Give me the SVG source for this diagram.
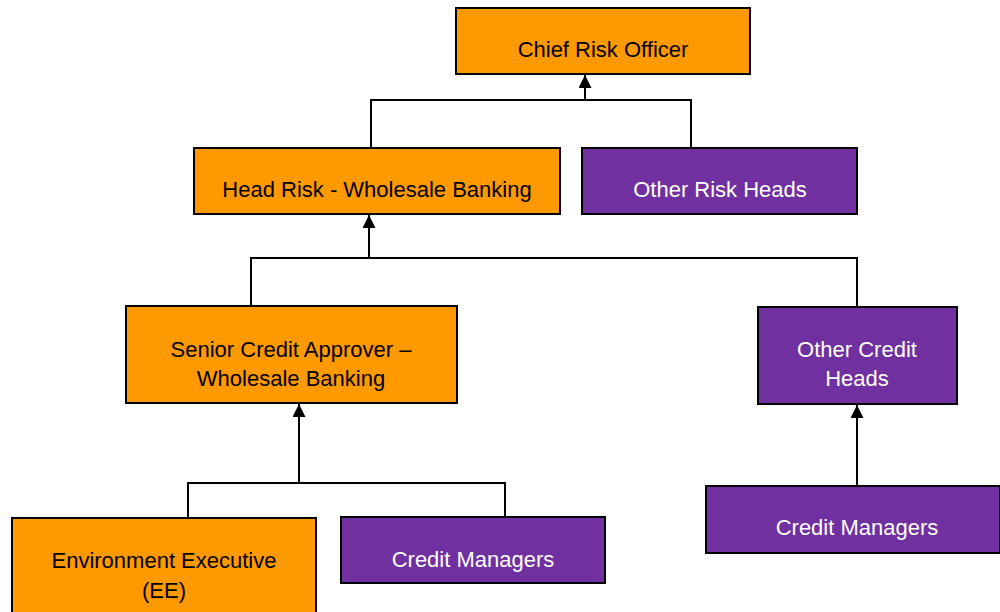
<svg xmlns="http://www.w3.org/2000/svg" width="1000" height="612" viewBox="0 0 1000 612">
<style>
.o{fill:#FF9900;stroke:#000;stroke-width:2}
.p{fill:#7030A0;stroke:#000;stroke-width:2}
.t{font-family:"Liberation Sans",Arial,sans-serif;font-size:22px;text-anchor:middle}
.tb{fill:#000}
.tw{fill:#fff}
.c{fill:none;stroke:#000;stroke-width:2}
</style>
<defs>
<marker id="ar" viewBox="0 0 10 10" refX="10" refY="5" markerWidth="14" markerHeight="13" markerUnits="userSpaceOnUse" orient="auto">
<path d="M0,0 L10,5 L0,10 z" fill="#000"/>
</marker>
</defs>
<rect width="1000" height="612" fill="#fff"/>
<g id="connectors">
<path class="c" d="M371,148 V100 H691 V148"/>
<path class="c" d="M585,100 V75" marker-end="url(#ar)"/>
<path class="c" d="M251,306 V258 H857 V306"/>
<path class="c" d="M369,258 V215" marker-end="url(#ar)"/>
<path class="c" d="M188,518 V483 H505 V517"/>
<path class="c" d="M299,483 V404" marker-end="url(#ar)"/>
<path class="c" d="M857,487 V405" marker-end="url(#ar)"/>
</g>
<g id="cro">
<rect class="o" x="456" y="8" width="294" height="66"/>
<text class="t tb" x="603" y="57">Chief Risk Officer</text>
</g>
<g id="head-risk">
<rect class="o" x="194" y="148" width="366" height="66"/>
<text class="t tb" x="377" y="197">Head Risk - Wholesale Banking</text>
</g>
<g id="other-risk-heads">
<rect class="p" x="582" y="148" width="275" height="66"/>
<text class="t tw" x="720" y="197">Other Risk Heads</text>
</g>
<g id="senior-credit">
<rect class="o" x="126" y="306" width="331" height="97"/>
<text class="t tb" x="291" y="357">Senior Credit Approver –</text>
<text class="t tb" x="291" y="386">Wholesale Banking</text>
</g>
<g id="other-credit-heads">
<rect class="p" x="758" y="307" width="199" height="97"/>
<text class="t tw" x="857" y="357">Other Credit</text>
<text class="t tw" x="857" y="386">Heads</text>
</g>
<g id="ee">
<rect class="o" x="12" y="518" width="304" height="100"/>
<text class="t tb" x="164" y="568">Environment Executive</text>
<text class="t tb" x="164" y="598">(EE)</text>
</g>
<g id="credit-managers-1">
<rect class="p" x="341" y="517" width="264" height="66"/>
<text class="t tw" x="473" y="567">Credit Managers</text>
</g>
<g id="credit-managers-2">
<rect class="p" x="706" y="486" width="294" height="67"/>
<text class="t tw" x="857" y="535">Credit Managers</text>
</g>
</svg>
